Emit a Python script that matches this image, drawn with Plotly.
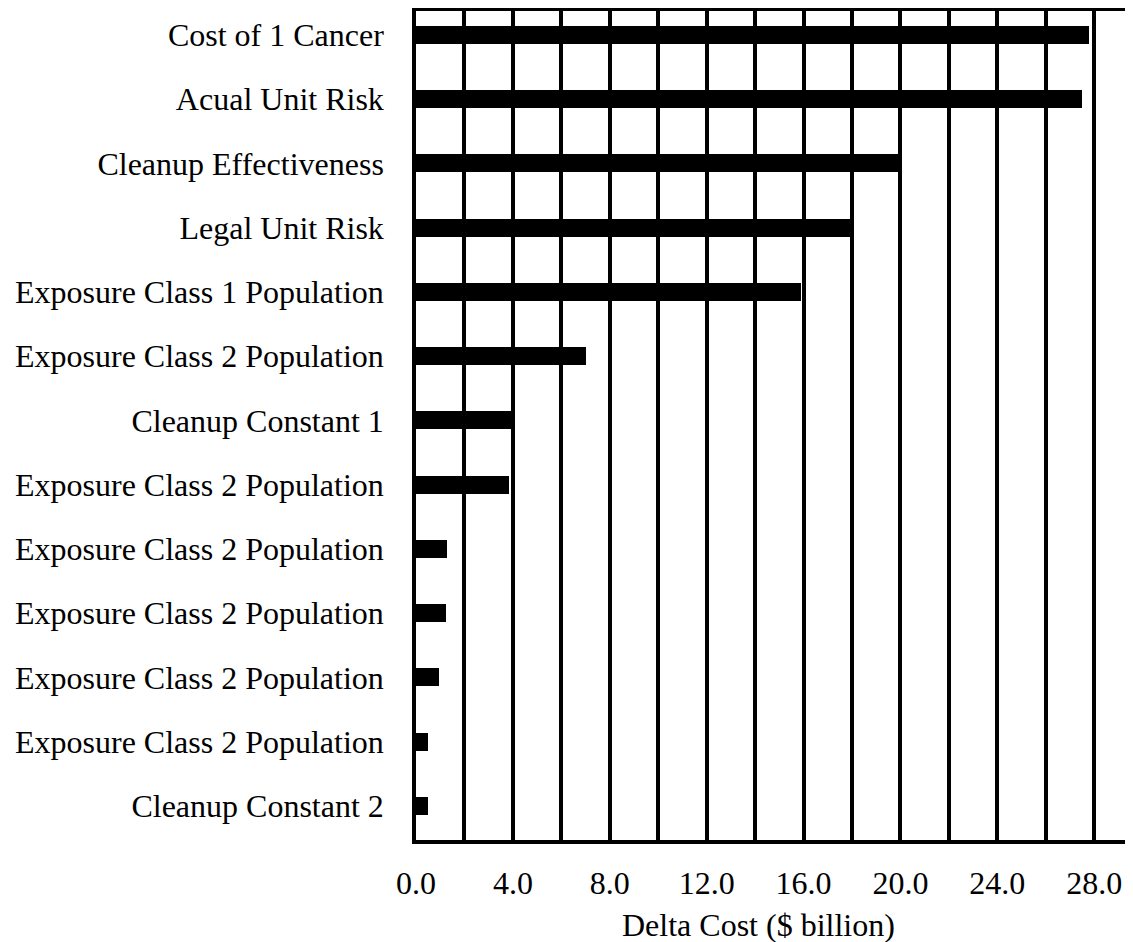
import plotly.graph_objects as go

labels = [
    "Cost of 1 Cancer",
    "Acual Unit Risk",
    "Cleanup Effectiveness",
    "Legal Unit Risk",
    "Exposure Class 1 Population",
    "Exposure Class 2 Population",
    "Cleanup Constant 1",
    "Exposure Class 2 Population",
    "Exposure Class 2 Population",
    "Exposure Class 2 Population",
    "Exposure Class 2 Population",
    "Exposure Class 2 Population",
    "Cleanup Constant 2",
]
values = [27.8, 27.5, 20.0, 17.9, 15.9, 7.0, 4.0, 3.85, 1.3, 1.25, 0.95, 0.5, 0.5]
x_ticks = [0, 4, 8, 12, 16, 20, 24, 28]
x_title = "Delta Cost ($ billion)"

positions = list(range(len(labels)))

font = "Liberation Serif, Times New Roman, serif"
fsize = 32

fig = go.Figure(
    go.Bar(
        x=values,
        y=positions,
        orientation="h",
        marker=dict(color="black", line=dict(width=0)),
        width=0.28,
    )
)

# the page body has an 8px margin, so the figure is offset by (8, 8)
fig.update_layout(
    width=1125,
    height=934,
    margin=dict(l=408, r=0, t=3, b=102),
    paper_bgcolor="white",
    plot_bgcolor="white",
    showlegend=False,
    font=dict(family=font, size=fsize, color="black"),
    bargap=0,
    annotations=[
        dict(
            text=x_title,
            xref="paper",
            yref="paper",
            x=0.477,
            y=-0.102,
            xanchor="center",
            yanchor="middle",
            showarrow=False,
            font=dict(family=font, size=fsize, color="black"),
        )
    ],
)

fig.update_xaxes(
    range=[0, 29.6],
    tickvals=x_ticks,
    tickformat=".1f",
    showgrid=True,
    gridcolor="black",
    gridwidth=3.5,
    minor=dict(dtick=2, tick0=0, showgrid=True, gridcolor="black", gridwidth=3.5),
    showline=True,
    linecolor="black",
    linewidth=3.5,
    mirror=True,
    ticks="",
    ticklabelstandoff=12,
    zeroline=False,
    automargin=False,
    tickfont=dict(family=font, size=fsize),
)

fig.update_yaxes(
    range=[12.53, -0.37],
    tickvals=positions,
    ticktext=labels,
    showgrid=False,
    showline=True,
    linecolor="black",
    linewidth=3.5,
    ticks="",
    ticklabelstandoff=22,
    zeroline=False,
    automargin=False,
    tickfont=dict(family=font, size=fsize),
)

fig.write_html("out.html")
